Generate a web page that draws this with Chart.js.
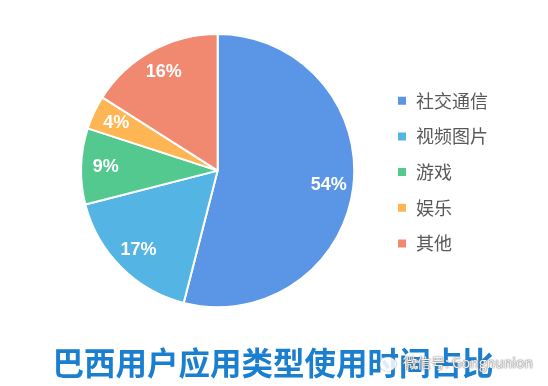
<!DOCTYPE html>
<html>
<head>
<meta charset="utf-8">
<script src="https://cdn.jsdelivr.net/npm/chart.js@4"></script>
<style>
  html, body { margin: 0; padding: 0; background: #fff; }
  #wrap { position: relative; width: 548px; height: 386px; }
  #title {
    position: absolute; left: -1px; width: 548px; top: 338px; line-height: 40px;
    text-align: center; font: bold 31.5px "Noto Sans CJK SC", sans-serif; color: #1b7fd0;
    white-space: nowrap;
  }
  #mark {
    position: absolute; left: 380px; top: 352px;
    font: 14px "Noto Sans CJK SC", sans-serif; color: rgba(255,255,255,0.9);
    text-shadow: 0 0 1px #666, 0 0 2px #777;
    white-space: nowrap; line-height: 20px;
  }
  #mark span.ico {
    display: inline-block; width: 16px; height: 14px; background: rgba(255,255,255,0.85);
    box-shadow: 0 0 2px #777; border-radius: 50%; vertical-align: -3px; margin-right: 7px;
  }
</style>
</head>
<body>
<div id="wrap">
  <canvas id="myChart" width="548" height="386"></canvas>
  <div id="title"></div>
  <div id="mark"><span class="ico"></span>微信号: Gongnunion</div>
</div>
<script>
const categories = ["社交通信", "视频图片", "游戏", "娱乐", "其他"];
const shares = [54, 17, 9, 4, 16];
const colors = ["#5b96e6", "#54b4e3", "#53c88f", "#feb554", "#f18870"];
const chartTitle = "巴西用户应用类型使用时间占比";

document.getElementById("title").textContent = chartTitle;

// percent labels inside each slice
const sliceLabels = {
  id: "sliceLabels",
  afterDatasetsDraw(chart) {
    const ctx = chart.ctx;
    const meta = chart.getDatasetMeta(0);
    ctx.save();
    ctx.fillStyle = "#fff";
    ctx.font = "bold 18px 'Liberation Sans', Arial, sans-serif";
    ctx.textAlign = "center";
    ctx.textBaseline = "middle";
    meta.data.forEach((arc, i) => {
      const p = arc.getProps(["x", "y", "startAngle", "endAngle", "outerRadius"], true);
      const mid = (p.startAngle + p.endAngle) / 2;
      const r = p.outerRadius * 0.82;
      ctx.fillText(shares[i] + "%", p.x + Math.cos(mid) * r, p.y + Math.sin(mid) * r);
    });
    ctx.restore();
  }
};

new Chart(document.getElementById("myChart"), {
  type: "pie",
  data: {
    labels: categories,
    datasets: [{
      data: shares,
      backgroundColor: colors,
      borderColor: "#fff",
      borderWidth: 2
    }]
  },
  options: {
    responsive: false,
    animation: false,
    layout: { padding: { top: 33, bottom: 77.8, left: 56, right: 50 } },
    plugins: {
      legend: {
        position: "right",
        align: "start",
        title: {
          display: true,
          text: " ",
          font: { size: 18 },
          padding: { top: 0, bottom: 19.4 }
        },
        labels: {
          boxWidth: 10,
          boxHeight: 10,
          padding: 17.7,
          color: "#595959",
          font: { family: "'Noto Sans CJK SC', sans-serif", size: 18 }
        }
      },
      tooltip: { enabled: false }
    }
  },
  plugins: [sliceLabels]
});
</script>
</body>
</html>
